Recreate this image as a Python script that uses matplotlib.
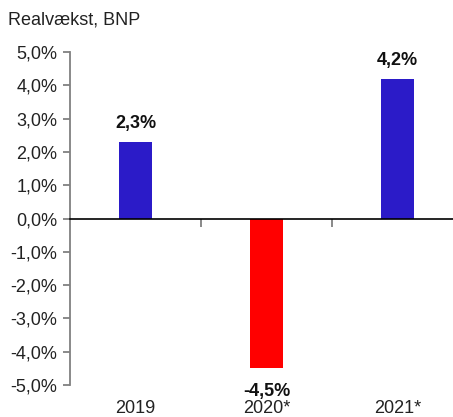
import matplotlib.pyplot as plt

years = ['2019', '2020*', '2021*']
vaekst = [2.3, -4.5, 4.2]
farver = ['#2b1bc8', '#ff0000', '#2b1bc8']
labels = ['2,3%', '-4,5%', '4,2%']
yticks = [-5, -4, -3, -2, -1, 0, 1, 2, 3, 4, 5]

plt.rcParams['font.family'] = ['Liberation Sans', 'DejaVu Sans']

fig = plt.figure(figsize=(4.53, 4.17), dpi=100)
ax = fig.add_axes([70/453, 32/417, 393/453, 333/417])

x = range(len(years))
ax.bar(x, vaekst, width=0.25, color=farver)

ax.set_xlim(-0.5, 2.5)
ax.set_ylim(-5, 5)
ax.set_yticks(yticks)
ax.set_yticklabels([('%.1f%%' % v).replace('.', ',') for v in yticks], fontsize=13, color='#222222')
ax.tick_params(axis='y', direction='out', length=5, width=1.3, color='#808080', pad=4)

ax.spines['top'].set_visible(False)
ax.spines['right'].set_visible(False)
ax.spines['left'].set_color('#808080')
ax.spines['left'].set_linewidth(1.3)
ax.spines['bottom'].set_position(('data', 0))
ax.spines['bottom'].set_color('black')
ax.spines['bottom'].set_linewidth(1.2)

ax.set_xticks([0.5, 1.5])
ax.set_xticklabels(['', ''])
ax.tick_params(axis='x', direction='out', length=6, width=1.3, color='#808080')

for i, v in enumerate(vaekst):
    if v >= 0:
        ax.annotate(labels[i], (i, v), xytext=(0, 13), textcoords='offset points',
                    ha='center', va='center', fontsize=13, fontweight='bold', color='#111111')
    else:
        ax.annotate(labels[i], (i, -5), xytext=(0, -5), textcoords='offset points',
                    ha='center', va='center', fontsize=13, fontweight='bold', color='#111111')
    ax.annotate(years[i], (i, -5), xytext=(0, -11), textcoords='offset points',
                ha='center', va='top', fontsize=13, color='#222222')

fig.text(8/453, 1 - 20/417, 'Realvækst, BNP', fontsize=13, ha='left', va='center', color='#222222')

fig.savefig('out.png', dpi=100)
